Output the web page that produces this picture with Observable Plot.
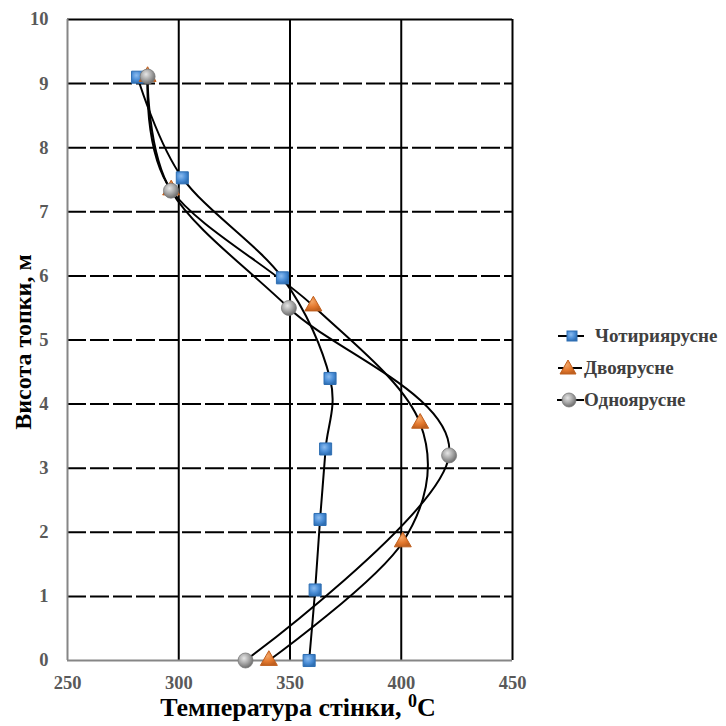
<!DOCTYPE html>
<html>
<head>
<meta charset="utf-8">
<script src="https://cdn.jsdelivr.net/npm/d3@7"></script>
<script src="https://cdn.jsdelivr.net/npm/@observablehq/plot@0.6"></script>
<style>
  html, body { margin: 0; padding: 0; background: #fff; }
  #wrap { position: relative; width: 726px; height: 726px; font-family: "Liberation Serif", "Times New Roman", serif; }
  #wrap > svg.plot { position: absolute; left: 0; top: 0; }
  .xtitle { position: absolute; left: 0; width: 596px; text-align: center; top: 693px; font-size: 26px; line-height: 30px; font-weight: bold; color: #000; white-space: nowrap; }
  .xtitle sup { font-size: 18px; position: relative; top: -1px; vertical-align: top; line-height: 18px; }
  .ytitle { position: absolute; left: 23px; top: 342px; transform: translate(-50%, -50%) rotate(-90deg); font-size: 24px; font-weight: bold; color: #000; white-space: nowrap; }
  .legend { position: absolute; left: 556px; top: 320px; font-size: 19px; font-weight: bold; color: #404040; }
  .legend .row { display: flex; align-items: center; height: 32px; white-space: nowrap; }
  .legend svg { display: block; }
</style>
</head>
<body>
<div id="wrap"></div>
<script>
// ---- data ----
const seriesNames = ["Чотириярусне", "Двоярусне", "Одноярусне"];

const squareHeights = [0, 1.1, 2.2, 3.3, 4.4, 5.97, 7.53, 9.1];
const squareTemps   = [358.6, 361.3, 363.5, 366, 368, 346.6, 301.6, 281.5];

const triangleHeights = [0, 1.85, 3.7, 5.53, 7.34, 9.11];
const triangleTemps   = [340.5, 400.7, 408.5, 360.5, 296.6, 286];

const circleHeights = [0, 3.2, 5.5, 7.33, 9.11];
const circleTemps   = [330, 421.5, 349.5, 296.5, 286];

const xTicks = [250, 300, 350, 400, 450];
const yTicks = [0, 1, 2, 3, 4, 5, 6, 7, 8, 9, 10];

// ---- build table ----
function rows(name, hs, ts) { return hs.map((h, i) => ({series: name, h, t: ts[i]})); }
const sq = rows(seriesNames[0], squareHeights, squareTemps);
const tr = rows(seriesNames[1], triangleHeights, triangleTemps);
const ci = rows(seriesNames[2], circleHeights, circleTemps);
const all = [...sq, ...tr, ...ci];

const font = "'Liberation Serif', 'Times New Roman', serif";

const plot = Plot.plot({
  width: 726,
  height: 726,
  marginLeft: 67,
  marginRight: 214,
  marginTop: 19,
  marginBottom: 66,
  style: {fontFamily: font, fontSize: "18.5px", fontWeight: "bold", color: "#595959", background: "transparent"},
  x: {domain: [250, 450], label: null},
  y: {domain: [0, 10], label: null},
  marks: [
    Plot.ruleY(yTicks.filter(d => d > 0 && d < 10), {stroke: "#000", strokeWidth: 2, strokeDasharray: "19,4"}),
    Plot.ruleX(xTicks.filter(d => d > 250 && d < 450), {stroke: "#000", strokeWidth: 2}),
    Plot.ruleY([10], {stroke: "#000", strokeWidth: 2}),
    Plot.ruleX([450], {stroke: "#000", strokeWidth: 2}),
    Plot.ruleY([0], {stroke: "#868686", strokeWidth: 2}),
    Plot.ruleX([250], {stroke: "#868686", strokeWidth: 2}),
    Plot.axisX({ticks: xTicks, tickSize: 0, tickPadding: 15, label: null, fill: "#595959"}),
    Plot.axisY({ticks: yTicks, tickSize: 0, tickPadding: 19, label: null, fill: "#595959"}),
    Plot.line(all, {x: "t", y: "h", z: "series", stroke: "#000", strokeWidth: 2, curve: "cardinal", tension: 0}),
    Plot.dot(sq, {x: "t", y: "h", symbol: "square", r: 6.8, fill: "url(#gBlue)", stroke: "#2f6fb3", strokeWidth: 1}),
    Plot.dot(tr, {x: "t", y: "h", symbol: "triangle", r: 6.3, fill: "url(#gOrange)", stroke: "#c0601f", strokeWidth: 1}),
    Plot.dot(ci, {x: "t", y: "h", r: 7.5, fill: "url(#gGray)", stroke: "#7a7a7a", strokeWidth: 0.8})
  ]
});
plot.classList.add("plot");

const wrap = document.getElementById("wrap");
wrap.appendChild(plot);

const defs = d3.select(plot).insert("defs", ":first-child");
function radial(id, stops) {
  const g = defs.append("radialGradient").attr("id", id).attr("cx", "40%").attr("cy", "35%").attr("r", "65%");
  stops.forEach(([o, c]) => g.append("stop").attr("offset", o).attr("stop-color", c));
}
radial("gGray", [["0%", "#e6e6e6"], ["55%", "#a6a6a6"], ["100%", "#6e6e6e"]]);
radial("gBlue", [["0%", "#8cbcef"], ["60%", "#4a8dd6"], ["100%", "#2f6fb3"]]);
radial("gOrange", [["0%", "#f4a768"], ["60%", "#e3782e"], ["100%", "#c0601f"]]);

const xt = document.createElement("div");
xt.className = "xtitle";
xt.innerHTML = "Температура стінки, <sup>0</sup>C";
wrap.appendChild(xt);
const yt = document.createElement("div");
yt.className = "ytitle";
yt.textContent = "Висота топки, м";
wrap.appendChild(yt);

const legend = document.createElement("div");
legend.className = "legend";
const markerSvg = {
  0: '<rect x="11" y="5" width="10" height="10" fill="url(#gBlue)" stroke="#2f6fb3" stroke-width="1"/>',
  1: '<path d="M12,2 L20,16 L4,16 Z" fill="url(#gOrange)" stroke="#c0601f" stroke-width="1"/>',
  2: '<circle cx="13" cy="10" r="7" fill="url(#gGray)" stroke="#7a7a7a" stroke-width="0.8"/>'
};
const lineSpan = {0: [2, 28], 1: [2, 26], 2: [1, 28]};
seriesNames.forEach((name, i) => {
  const row = document.createElement("div");
  row.className = "row";
  const [a, b] = lineSpan[i];
  row.innerHTML = '<svg width="28" height="20"><line x1="' + a + '" y1="10" x2="' + b + '" y2="10" stroke="#000" stroke-width="2"/>' + markerSvg[i] + '</svg>' +
    '<span style="margin-left:' + (i === 0 ? 11 : 0) + 'px">' + name + '</span>';
  legend.appendChild(row);
});
wrap.appendChild(legend);
</script>
</body>
</html>
